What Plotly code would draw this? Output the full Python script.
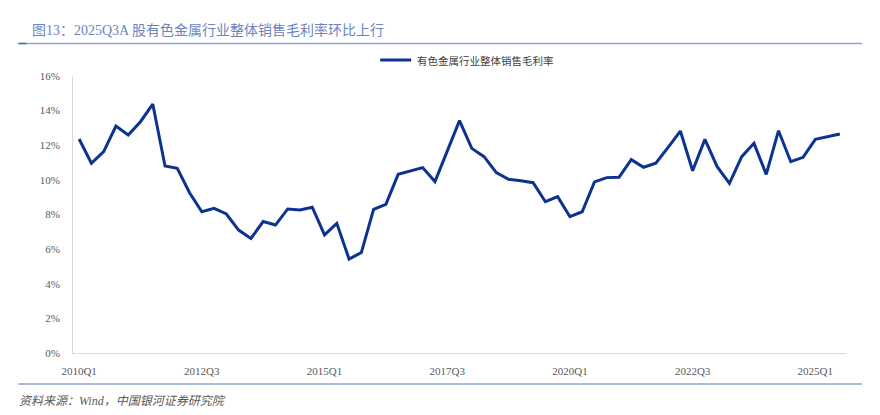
import plotly.graph_objects as go

# ---- data ----
quarters = [f"{y}Q{q}" for y in range(2010, 2026) for q in range(1, 5)][:63]
margin_pct = [
    12.36, 10.96, 11.63, 13.11, 12.59, 13.36, 14.38, 10.80, 10.67, 9.26,
    8.16, 8.36, 8.03, 7.10, 6.62, 7.59, 7.39, 8.32, 8.26, 8.42,
    6.82, 7.49, 5.43, 5.80, 8.30, 8.59, 10.32, 10.51, 10.71, 9.90,
    11.67, 13.42, 11.82, 11.34, 10.42, 10.03, 9.95, 9.84, 8.74, 9.03,
    7.87, 8.16, 9.88, 10.13, 10.15, 11.17, 10.73, 10.96, 11.88, 12.82,
    10.53, 12.34, 10.76, 9.80, 11.34, 12.11, 10.32, 12.84, 11.05, 11.30,
    12.34, 12.50, 12.65,
]
values = [v / 100 for v in margin_pct]
x_ticks = ["2010Q1", "2012Q3", "2015Q1", "2017Q3", "2020Q1", "2022Q3", "2025Q1"]
y_ticks = [0, 0.02, 0.04, 0.06, 0.08, 0.10, 0.12, 0.14, 0.16]
series_name = "有色金属行业整体销售毛利率"
title_text = "图13：2025Q3A 股有色金属行业整体销售毛利率环比上行"
source_text = "资料来源：Wind，中国银河证券研究院"

# page has an 8px body margin: design in page pixels, convert to figure pixels
OFF = 8
W, H = 864, 399
# plot area in page pixels: x 72.7..846, y 76..353
L = 72.7 - OFF
R = W - (846 - OFF)
T = 76 - OFF
B = H - (353 - OFF)
PW, PH = W - L - R, H - T - B

def px(x):
    return (x - OFF - L) / PW

def py(y):
    return (H - B - (y - OFF)) / PH

serif = "Liberation Serif, Noto Sans CJK SC, serif"
cjk = "Noto Sans CJK SC, Liberation Serif, sans-serif"
line_color = "#0d3391"

fig = go.Figure()
fig.add_trace(go.Scatter(
    x=quarters, y=values, mode="lines", name=series_name,
    line=dict(color=line_color, width=3), showlegend=False,
))

fig.update_layout(
    width=W, height=H,
    margin=dict(l=L, r=R, t=T, b=B, pad=0),
    paper_bgcolor="white", plot_bgcolor="white",
    font=dict(family=serif, size=11, color="#595959"),
    xaxis=dict(
        type="category", range=[-0.5, 62.5],
        tickmode="array", tickvals=x_ticks, ticktext=x_ticks,
        showgrid=False, zeroline=False, showline=True, linecolor="#d9d9d9",
        linewidth=1, ticks="", ticklabelstandoff=8,
        tickfont=dict(family=serif, size=11, color="#595959"),
    ),
    yaxis=dict(
        range=[0, 0.16], tickvals=y_ticks, tickformat=".0%",
        showgrid=False, zeroline=False, showline=True, linecolor="#d9d9d9",
        linewidth=1, ticks="", ticklabelstandoff=10,
        tickfont=dict(family=serif, size=11, color="#595959"),
    ),
)

# title
fig.add_annotation(
    x=px(30), y=py(30), xref="paper", yref="paper", text=title_text,
    showarrow=False, xanchor="left", yanchor="middle",
    font=dict(family=serif, size=14, color="#6a85c0"),
)
# lines under title and above source
fig.add_shape(type="line", xref="paper", yref="paper",
              x0=px(18), x1=px(862), y0=py(43.5), y1=py(43.5),
              line=dict(color="#8ea6d4", width=1.5))
fig.add_shape(type="line", xref="paper", yref="paper",
              x0=px(18), x1=px(26), y0=py(43.5), y1=py(43.5),
              line=dict(color="#4a6fb5", width=1.5))
fig.add_shape(type="line", xref="paper", yref="paper",
              x0=px(18), x1=px(862), y0=py(384), y1=py(384),
              line=dict(color="#8ea6d4", width=1.5))
# source
fig.add_annotation(
    x=px(17), y=py(401), xref="paper", yref="paper", text="<i>" + source_text + "</i>",
    showarrow=False, xanchor="left", yanchor="middle",
    font=dict(family=serif, size=12, color="#595959"),
)
# legend
fig.add_shape(type="line", xref="paper", yref="paper",
              x0=px(380), x1=px(411), y0=py(60), y1=py(60),
              line=dict(color=line_color, width=3))
fig.add_annotation(
    x=px(415), y=py(60), xref="paper", yref="paper", text=series_name,
    showarrow=False, xanchor="left", yanchor="middle",
    font=dict(family=cjk, size=10.5, color="#404040"),
)

fig.write_html("out.html")
